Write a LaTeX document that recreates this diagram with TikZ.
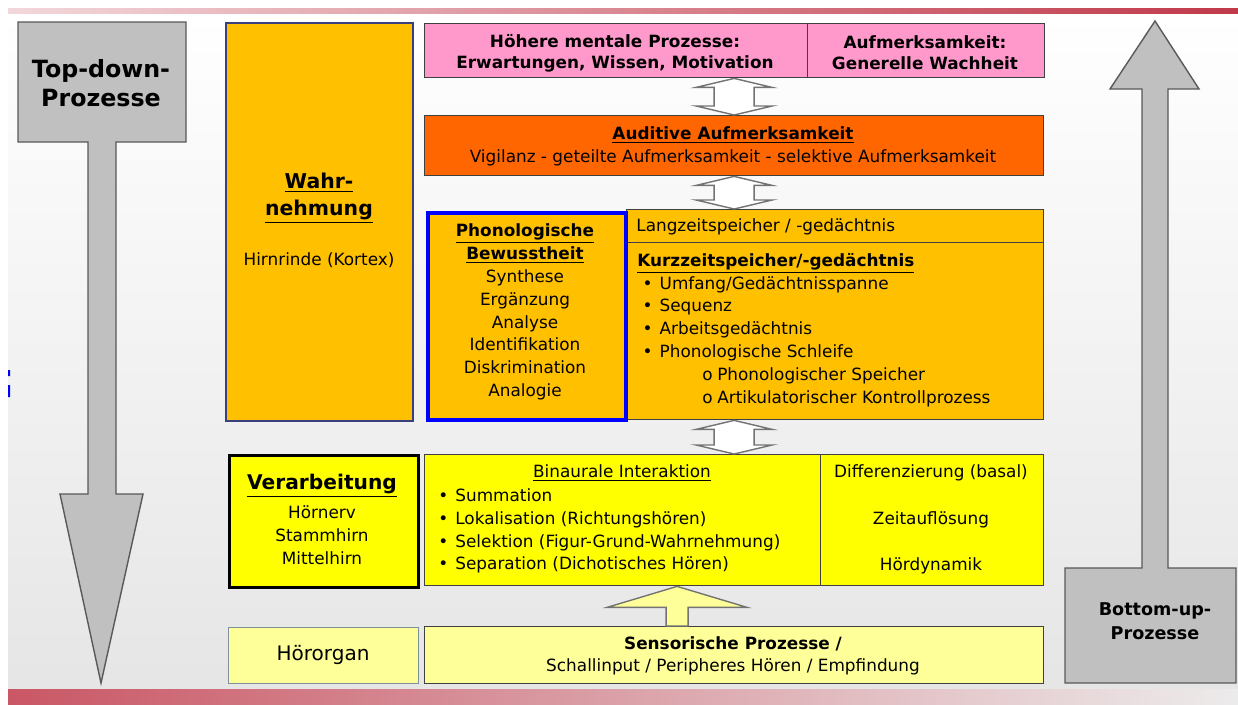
\documentclass[tikz,border=0pt]{standalone}
\usepackage{fontspec}
\setmainfont{DejaVu Sans}
\usetikzlibrary{calc}

\definecolor{hirnorange}{HTML}{FFC000}
\definecolor{aufmorange}{HTML}{FF6600}
\definecolor{mentalpink}{HTML}{FF99CC}
\definecolor{verarbgelb}{HTML}{FFFF00}
\definecolor{sensorgelb}{HTML}{FFFF99}
\definecolor{prozessgrau}{HTML}{C0C0C0}
\definecolor{randrot}{HTML}{C0394A}
\definecolor{kortexrand}{HTML}{3A3F80}

\newcommand{\bul}[1]{\makebox[9.7pt][l]{\textbullet}#1}
\newcommand{\subbul}[1]{\hspace*{37pt}\makebox[8.5pt][l]{o}#1}
% flat white double arrow between two stacked boxes
\newcommand{\dblarrow}[2]{%
  \draw[dbl] #1 -- ($#1+(38,9)$) -- ($#1+(20,9)$) -- ($#2+(20,-9)$)
    -- ($#2+(38,-9)$) -- #2 -- ($#2+(-38,-9)$) -- ($#2+(-20,-9)$)
    -- ($#1+(-20,9)$) -- ($#1+(-38,9)$) -- cycle;}

\begin{document}
\begin{tikzpicture}[x=0.02cm,y=-0.02cm,
  box/.style={draw=black!75,line width=0.8pt,anchor=north west,inner sep=0},
  txt/.style={font=\fontsize{9.6}{13}\selectfont,align=center,inner sep=0},
  head/.style={txt,font=\fontsize{9.6}{12}\selectfont\bfseries},
  title/.style={txt,font=\fontsize{11.6}{15.4}\selectfont\bfseries},
  pfeil/.style={draw=black!65,line width=0.8pt,fill=prozessgrau},
  dbl/.style={draw=black!55,line width=0.8pt,fill=white}]

  \useasboundingbox (0,0) rectangle (1238,704);

  % background and red rims
  \shade[top color=white,middle color=white,bottom color=black!10] (8,13) rectangle (1238,689);
  \shade[left color=randrot!20,right color=randrot] (8,8) rectangle (1238,13);
  \shade[left color=randrot!85,right color=randrot!12!black!8] (8,689) rectangle (1238,704);
  \fill[blue] (8,370) rectangle (10,376) (8,385) rectangle (10,397);

  % Top-down / Bottom-up arrows
  \draw[pfeil] (18,22) -- (186,22) -- (186,142) -- (116,142) -- (116,494)
    -- (143,494) -- (101,683) -- (60,494) -- (88,494) -- (88,142)
    -- (18,142) -- cycle;
  \node[txt,font=\fontsize{13.5}{16.5}\selectfont\bfseries] (topdown) at (101,83) {Top-down-\\Prozesse};

  \draw[pfeil] (1065,683) -- (1065,568) -- (1142,568) -- (1142,89)
    -- (1110,89) -- (1155,21) -- (1199,89) -- (1168,89) -- (1168,568)
    -- (1236,568) -- (1236,683) -- cycle;
  \node[txt,font=\fontsize{10}{13.7}\selectfont\bfseries] (bottomup) at (1155,621) {Bottom-up-\\Prozesse};

  % boxes
  \node[box,fill=hirnorange,draw=kortexrand,line width=1.4pt,minimum width=3.74cm,minimum height=7.96cm] (kortex) at (225,22) {};
  \node[box,fill=mentalpink,minimum width=7.66cm,minimum height=1.08cm] (mental) at (424,23) {};
  \node[box,fill=mentalpink,minimum width=4.74cm,minimum height=1.08cm] (wachheit) at (807,23) {};
  \node[box,fill=aufmorange,minimum width=12.38cm,minimum height=1.2cm] (auditiv) at (424,115) {};
  \node[box,fill=hirnorange,minimum width=8.34cm,minimum height=0.66cm] (langzeit) at (626,209) {};
  \node[box,fill=hirnorange,minimum width=8.34cm,minimum height=3.54cm] (kurzzeit) at (626,242) {};
  \node[box,fill=hirnorange,draw=blue,line width=2.3pt,minimum width=3.96cm,minimum height=4.14cm] (phono) at (426,211) {};
  \node[box,fill=verarbgelb,draw=black,line width=1.8pt,minimum width=3.78cm,minimum height=2.64cm] (verarb) at (228,454) {};
  \node[box,fill=verarbgelb,minimum width=7.92cm,minimum height=2.62cm] (binaural) at (424,454) {};
  \node[box,fill=verarbgelb,minimum width=4.46cm,minimum height=2.62cm] (basal) at (820,454) {};
  \node[box,fill=sensorgelb,draw=black!30!cyan!30!gray,minimum width=3.8cm,minimum height=1.12cm] (hoerorgan) at (228,627) {};
  \node[box,fill=sensorgelb,minimum width=12.38cm,minimum height=1.14cm] (sensor) at (424,626) {};

  % texts
  \node[title] (wahr) at (319,198) {\underline{Wahr-}\\\underline{nehmung}};
  \node[txt] (hirnrinde) at (319,260) {Hirnrinde (Kortex)};
  \node[head] (hoehere) at (615,53) {Höhere mentale Prozesse:\\Erwartungen, Wissen, Motivation};
  \node[head] (generell) at (925,53) {Aufmerksamkeit:\\Generelle Wachheit};
  \node[txt] (vigilanz) at (733,146) {\textbf{\underline{Auditive Aufmerksamkeit}}\\Vigilanz - geteilte Aufmerksamkeit - selektive Aufmerksamkeit};
  \node[txt] (bewusst) at (525,312) {\textbf{\underline{Phonologische}}\\\textbf{\underline{Bewusstheit}}\\Synthese\\Ergänzung\\Analyse\\Identifikation\\Diskrimination\\Analogie};
  \node[txt,anchor=west] (lang) at (636,227) {Langzeitspeicher / -gedächtnis};
  \node[txt,anchor=west,align=left] (kurz) at (637,330) {\textbf{\underline{Kurzzeitspeicher/-gedächtnis}}\\
    \hspace*{3pt}\bul{Umfang/Gedächtnisspanne}\\
    \hspace*{3pt}\bul{Sequenz}\\
    \hspace*{3pt}\bul{Arbeitsgedächtnis}\\
    \hspace*{3pt}\bul{Phonologische Schleife}\\
    \subbul{Phonologischer Speicher}\\
    \subbul{Artikulatorischer Kontrollprozess}};
  \node[title,font=\fontsize{11.5}{15}\selectfont\bfseries] (verarbtitel) at (322,486) {\underline{Verarbeitung}};
  \node[txt] (hirnteile) at (322,535) {Hörnerv\\Stammhirn\\Mittelhirn};
  \node[txt] (interaktion) at (622,473) {\underline{Binaurale Interaktion}};
  \node[txt,anchor=west,align=left] (binliste) at (438,531) {\bul{Summation}\\
    \bul{Lokalisation (Richtungshören)}\\
    \bul{Selektion (Figur-Grund-Wahrnehmung)}\\
    \bul{Separation (Dichotisches Hören)}};
  \node[txt] (differenz) at (931,473) {Differenzierung (basal)};
  \node[txt] (zeit) at (931,520) {Zeitauflösung};
  \node[txt] (dynamik) at (931,566) {Hördynamik};
  \node[txt,font=\fontsize{11.4}{14}\selectfont] (organ) at (323,655) {Hörorgan};
  \node[txt,font=\fontsize{9.6}{12.5}\selectfont] (schall) at (733,656) {\textbf{Sensorische Prozesse /}\\Schallinput / Peripheres Hören / Empfindung};

  % connecting arrows
  \dblarrow{(auditiv.north |- mental.south)}{(auditiv.north)}
  \dblarrow{(auditiv.south)}{(auditiv.south |- langzeit.north)}
  \dblarrow{(auditiv.south |- kurzzeit.south)}{(auditiv.south |- binaural.north)}

  \coordinate (upfoot) at ($(sensor.north west)!0.408!(sensor.north east)$);
  \coordinate (uptip) at (upfoot |- binaural.south);
  \draw[draw=black!55,line width=0.8pt,fill=sensorgelb] (uptip) -- ($(uptip)+(70,21)$)
    -- ($(uptip)+(11,21)$) -- ($(upfoot)+(11,0)$) -- ($(upfoot)+(-11,0)$)
    -- ($(uptip)+(-11,21)$) -- ($(uptip)+(-70,21)$) -- cycle;
\end{tikzpicture}
\end{document}
